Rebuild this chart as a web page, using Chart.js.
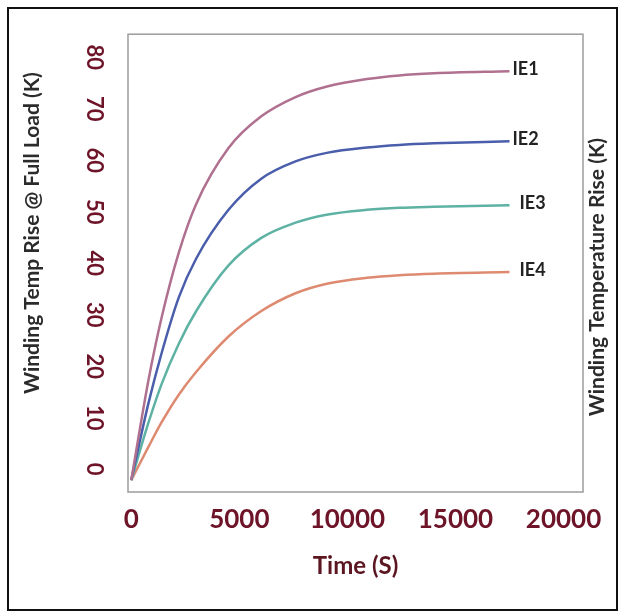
<!DOCTYPE html>
<html>
<head>
<meta charset="utf-8">
<title>Winding temperature rise</title>
<script src="https://cdn.jsdelivr.net/npm/chart.js@4.4.0/dist/chart.umd.min.js"></script>
<style>
  html, body { margin: 0; padding: 0; background: #fff; }
  #wrap { position: relative; width: 620px; height: 614px; }
  #frame { position: absolute; left: 7px; top: 7px; width: 607px; height: 600px; border: 2px solid #111; pointer-events: none; }
</style>
</head>
<body>
<div id="wrap">
  <canvas id="riseChart" width="620" height="614"></canvas>
  <div id="frame"></div>
</div>
<script>
// values
const timeSec = [0, 800, 1400, 2200, 3000, 4500, 6000, 7600, 9100, 10900, 12400, 14000, 17500];
const ie1 = [0, 19.5, 31.5, 44.2, 53.6, 64.5, 70.6, 74.4, 76.5, 77.9, 78.6, 79.0, 79.4];
const ie2 = [0, 15.0, 24.6, 35.5, 43.0, 52.5, 58.5, 61.9, 63.6, 64.6, 65.1, 65.4, 65.8];
const ie3 = [0, 11.2, 18.6, 26.5, 32.8, 41.7, 47.0, 50.0, 51.6, 52.5, 52.9, 53.1, 53.4];
const ie4 = [0, 6.5, 11.2, 16.6, 21.0, 27.9, 32.8, 36.3, 38.2, 39.3, 39.8, 40.1, 40.4];
const seriesNames = ["IE1", "IE2", "IE3", "IE4"];
const xTicks = [0, 5000, 10000, 15000, 20000];
const yTicks = [0, 10, 20, 30, 40, 50, 60, 70, 80];

const lineColors = ["#b07090", "#4a5eab", "#5db2a3", "#de8a70"];
const labelGap = [3, 3, 10, 10];
const leftTitle = "Winding Temp Rise @ Full Load (K)";
const rightTitle = "Winding Temperature Rise (K)";
const tickRed = "#6e1428";

const toPoints = (vals) => vals.map((v, i) => ({ x: timeSec[i], y: v }));

function sideTitle(ctx, text, x, y) {
  ctx.save();
  ctx.translate(x, y);
  ctx.rotate(-Math.PI / 2);
  ctx.textAlign = "center";
  ctx.textBaseline = "middle";
  ctx.font = "bold 21px Lato";
  ctx.fillStyle = "#2b2b2b";
  ctx.fillText(text, 0, 0);
  ctx.restore();
}

// frame, end labels and the two side titles
const extras = {
  id: "extras",
  afterDatasetsDraw(chart) {
    const { ctx, chartArea: a } = chart;
    ctx.save();
    ctx.strokeStyle = "#9c9c9c";
    ctx.lineWidth = 1.5;
    ctx.strokeRect(a.left, a.top, a.right - a.left, a.bottom - a.top);

    ctx.font = "bold 18px Lato";
    ctx.fillStyle = "#222";
    ctx.textBaseline = "middle";
    ctx.textAlign = "left";
    chart.data.datasets.forEach((ds, i) => {
      const pts = chart.getDatasetMeta(i).data;
      const p = pts[pts.length - 1];
      ctx.fillText(ds.label, p.x + labelGap[i], p.y - 2);
    });
    ctx.restore();

    const mid = (a.top + a.bottom) / 2;
    sideTitle(ctx, leftTitle, 32, mid - 30);
    sideTitle(ctx, rightTitle, 597, mid + 14);
  },
};

const ctx = document.getElementById("riseChart");

new Chart(ctx, {
  type: "line",
  data: {
    datasets: [ie1, ie2, ie3, ie4].map((vals, i) => ({
      label: seriesNames[i],
      data: toPoints(vals),
      borderColor: lineColors[i],
      borderWidth: 2.5,
      pointRadius: 0,
      fill: false,
      cubicInterpolationMode: "monotone",
    })),
  },
  options: {
    responsive: false,
    animation: false,
    layout: { padding: { left: 10, right: 37, top: 23, bottom: 0 } },
    plugins: { legend: { display: false }, tooltip: { enabled: false } },
    scales: {
      x: {
        type: "linear",
        min: -150,
        max: 20900,
        afterBuildTicks: (s) => { s.ticks = xTicks.map((v) => ({ value: v })); },
        afterFit: (s) => { s.height = 122; },
        grid: { display: false, drawTicks: false },
        border: { display: false },
        ticks: {
          color: tickRed,
          font: { family: "Lato", size: 26, weight: "bold" },
          padding: 12,
          maxRotation: 0,
          autoSkip: false,
          callback: (v) => String(v),
        },
        title: {
          display: true,
          text: "Time (S)",
          color: "#5c1622",
          font: { family: "Lato", size: 24, weight: "bold" },
          padding: { top: 0, bottom: 33 },
        },
      },
      y: {
        type: "linear",
        min: -2.3,
        max: 86.6,
        afterBuildTicks: (s) => { s.ticks = yTicks.map((v) => ({ value: v })); },
        afterFit: (s) => { s.width = 118; },
        grid: { display: false, drawTicks: false },
        border: { display: false },
        ticks: {
          color: tickRed,
          font: { family: "Lato", size: 22, weight: "bold" },
          padding: 21,
          labelOffset: -11,
          minRotation: -90,
          maxRotation: -90,
          crossAlign: "center",
          callback: (v) => String(v),
        },
      },
    },
  },
  plugins: [extras],
});
</script>
</body>
</html>
